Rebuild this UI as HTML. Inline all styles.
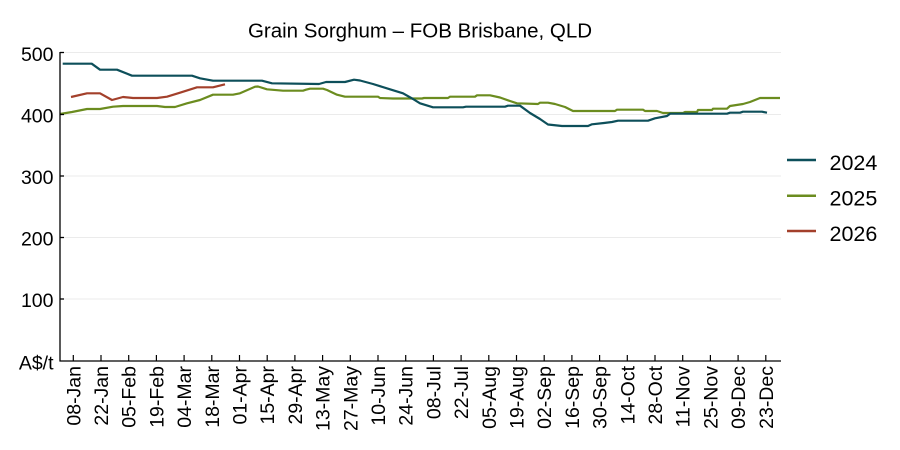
<!DOCTYPE html>
<html>
<head>
<meta charset="utf-8">
<style>
  html, body { margin: 0; padding: 0; background: #ffffff; }
  svg { display: block; }
  text { font-family: "Liberation Sans", Arial, sans-serif; fill: #000; }
</style>
</head>
<body>
<svg width="900" height="450" viewBox="0 0 900 450" xmlns="http://www.w3.org/2000/svg">
  <rect width="900" height="450" fill="#fff"/>
  <!-- title -->
  <text x="420" y="37.5" font-size="20.5" text-anchor="middle">Grain Sorghum – FOB Brisbane, QLD</text>

  <!-- gridlines -->
  <g stroke="#ebebeb" stroke-width="1">
    <line x1="60" y1="52.5" x2="781" y2="52.5"/>
    <line x1="60" y1="114.5" x2="781" y2="114.5"/>
    <line x1="60" y1="176" x2="781" y2="176"/>
    <line x1="60" y1="237.5" x2="781" y2="237.5"/>
    <line x1="60" y1="299" x2="781" y2="299"/>
  </g>

  <!-- y labels -->
  <g font-size="19.5" text-anchor="end">
    <text x="53.5" y="61">500</text>
    <text x="53.5" y="122.5">400</text>
    <text x="53.5" y="184">300</text>
    <text x="53.5" y="245.5">200</text>
    <text x="53.5" y="307">100</text>
    <text x="53.5" y="369.5">A$/t</text>
  </g>

  <!-- series -->
  <g fill="none" stroke-width="2.2" stroke-linejoin="round">
    <polyline stroke="#6b8c1f" points="60,114 72,112 87,109 100,109 113,106.7 123,106 157,106 165,107 175,107 187,103.3 200,100 213,94.7 233,94.7 240,93.3 255,86.7 258,86.5 267,89.3 283,90.7 303,90.7 306,89.7 310,88.7 323,88.7 327,90 337,94.7 345,96.7 378,96.7 380,98 393,98.5 422,98.5 424,98 448,98 450,96.7 475,96.7 477,95.3 490,95.3 500,97.5 510,101 517,103.3 538,104 540,102.7 548,102.7 555,104 565,107 573,111 615,111 617,109.7 643,109.7 645,111 657,111 663,113 683,113 685,112 697,112 698,110 712,110 713,108.7 727,108.7 730,106 743,104 750,102 760,98 780,98"/>
    <polyline stroke="#0d4f5a" points="62.7,63.7 91.7,63.7 100,69.7 117,69.7 132,75.7 192,75.7 200,78.3 213,80.7 262,80.7 272,83.3 319,84 326,82 345,82 354,79.7 360,80.5 373,84 390,89.3 403,93.3 413,99 420,103.3 433,107.3 463,107.3 466,106.7 505,106.7 508,105.7 520,105.7 530,113 540,119 548,124.5 562,126 588,126 592,124.3 604,123 612,122 618,120.7 648,120.7 655,118.3 667,116 670,113.7 727,113.7 730,112.7 740,112.7 743,111.7 762,111.7 767,112.7"/>
    <polyline stroke="#a3402b" points="71,97 87,93.3 100,93.3 112,100 123,97 133,98 157,98 167,96.7 180,92.7 197,87.3 213,87.3 225,84.3"/>
  </g>

  <!-- axes -->
  <g stroke="#000" stroke-width="1.3">
    <line x1="60" y1="52" x2="60" y2="361.5"/>
    <line x1="59.5" y1="361" x2="781" y2="361"/>
    <line x1="60" y1="52.5" x2="64" y2="52.5"/>
    <line x1="60" y1="114.5" x2="64" y2="114.5"/>
    <line x1="60" y1="176" x2="64" y2="176"/>
    <line x1="60" y1="237.5" x2="64" y2="237.5"/>
    <line x1="60" y1="299" x2="64" y2="299"/>
  </g>
  <g stroke="#000" stroke-width="1.2">
    <line x1="73.3" y1="355" x2="73.3" y2="361"/>
    <line x1="101" y1="355" x2="101" y2="361"/>
    <line x1="128.7" y1="355" x2="128.7" y2="361"/>
    <line x1="156.4" y1="355" x2="156.4" y2="361"/>
    <line x1="184.1" y1="355" x2="184.1" y2="361"/>
    <line x1="211.8" y1="355" x2="211.8" y2="361"/>
    <line x1="239.5" y1="355" x2="239.5" y2="361"/>
    <line x1="267.2" y1="355" x2="267.2" y2="361"/>
    <line x1="294.9" y1="355" x2="294.9" y2="361"/>
    <line x1="322.6" y1="355" x2="322.6" y2="361"/>
    <line x1="350.3" y1="355" x2="350.3" y2="361"/>
    <line x1="378" y1="355" x2="378" y2="361"/>
    <line x1="405.7" y1="355" x2="405.7" y2="361"/>
    <line x1="433.4" y1="355" x2="433.4" y2="361"/>
    <line x1="461.1" y1="355" x2="461.1" y2="361"/>
    <line x1="488.8" y1="355" x2="488.8" y2="361"/>
    <line x1="516.5" y1="355" x2="516.5" y2="361"/>
    <line x1="544.2" y1="355" x2="544.2" y2="361"/>
    <line x1="571.9" y1="355" x2="571.9" y2="361"/>
    <line x1="599.6" y1="355" x2="599.6" y2="361"/>
    <line x1="627.3" y1="355" x2="627.3" y2="361"/>
    <line x1="655" y1="355" x2="655" y2="361"/>
    <line x1="682.7" y1="355" x2="682.7" y2="361"/>
    <line x1="710.4" y1="355" x2="710.4" y2="361"/>
    <line x1="738.1" y1="355" x2="738.1" y2="361"/>
    <line x1="765.8" y1="355" x2="765.8" y2="361"/>
  </g>

  <!-- x labels -->
  <g font-size="19.5" text-anchor="end">
    <text transform="translate(80.3,366) rotate(-90)">08-Jan</text>
    <text transform="translate(108,366) rotate(-90)">22-Jan</text>
    <text transform="translate(135.7,366) rotate(-90)">05-Feb</text>
    <text transform="translate(163.4,366) rotate(-90)">19-Feb</text>
    <text transform="translate(191.1,366) rotate(-90)">04-Mar</text>
    <text transform="translate(218.8,366) rotate(-90)">18-Mar</text>
    <text transform="translate(246.5,366) rotate(-90)">01-Apr</text>
    <text transform="translate(274.2,366) rotate(-90)">15-Apr</text>
    <text transform="translate(301.9,366) rotate(-90)">29-Apr</text>
    <text transform="translate(329.6,366) rotate(-90)">13-May</text>
    <text transform="translate(357.3,366) rotate(-90)">27-May</text>
    <text transform="translate(385,366) rotate(-90)">10-Jun</text>
    <text transform="translate(412.7,366) rotate(-90)">24-Jun</text>
    <text transform="translate(440.4,366) rotate(-90)">08-Jul</text>
    <text transform="translate(468.1,366) rotate(-90)">22-Jul</text>
    <text transform="translate(495.8,366) rotate(-90)">05-Aug</text>
    <text transform="translate(523.5,366) rotate(-90)">19-Aug</text>
    <text transform="translate(551.2,366) rotate(-90)">02-Sep</text>
    <text transform="translate(578.9,366) rotate(-90)">16-Sep</text>
    <text transform="translate(606.6,366) rotate(-90)">30-Sep</text>
    <text transform="translate(634.3,366) rotate(-90)">14-Oct</text>
    <text transform="translate(662,366) rotate(-90)">28-Oct</text>
    <text transform="translate(689.7,366) rotate(-90)">11-Nov</text>
    <text transform="translate(717.4,366) rotate(-90)">25-Nov</text>
    <text transform="translate(745.1,366) rotate(-90)">09-Dec</text>
    <text transform="translate(772.8,366) rotate(-90)">23-Dec</text>
  </g>

  <!-- legend -->
  <g stroke-width="2.5">
    <line x1="787" y1="160" x2="816" y2="160" stroke="#0d4f5a"/>
    <line x1="787" y1="195.7" x2="816" y2="195.7" stroke="#6b8c1f"/>
    <line x1="787" y1="231" x2="816" y2="231" stroke="#a3402b"/>
  </g>
  <g font-size="21.5">
    <text x="829.5" y="170">2024</text>
    <text x="829.5" y="205.7">2025</text>
    <text x="829.5" y="241">2026</text>
  </g>
</svg>
</body>
</html>
